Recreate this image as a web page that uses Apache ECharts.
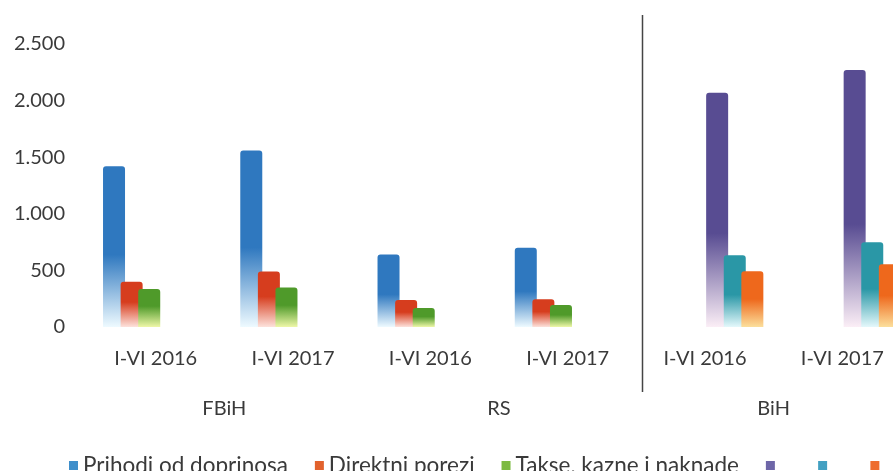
<!DOCTYPE html>
<html>
<head>
<meta charset="utf-8">
<script src="https://cdn.jsdelivr.net/npm/echarts@6/dist/echarts.min.js"></script>
<style>
  html, body { margin: 0; padding: 0; background: #fff; }
  #chart { width: 893px; height: 471px; }
</style>
</head>
<body>
<div id="chart"></div>
<script>
  // podaci (mil. KM), ocitano sa slike
  const periodLabels = ['I-VI 2016', 'I-VI 2017', 'I-VI 2016', 'I-VI 2017', 'I-VI 2016', 'I-VI 2017']
  const entityLabels = ['FBiH', 'RS', 'BiH']
  const entityCats = ['FBiH 2016', 'FBiH 2017', 'RS 2016', 'RS 2017']
  const bihCats = ['BiH 2016', 'BiH 2017']

  const doprinosi = [1420, 1560, 640, 700]
  const direktni = [400, 490, 238, 246]
  const takse = [335, 350, 167, 194]

  const doprinosiBiH = [2070, 2270]
  const direktniBiH = [634, 748]
  const takseBiH = [493, 555]

  const yMin = 0
  const yMax = 2500
  const yStep = 500

  const font = 'Lato'
  const textColor = '#3a3a3a'

  function fade(top, bottom, stop) {
    return {
      type: 'linear', x: 0, y: 0, x2: 0, y2: 1,
      colorStops: [
        { offset: 0, color: top },
        { offset: stop, color: top },
        { offset: 1, color: bottom }
      ]
    }
  }

  function bar(name, data, axis, color) {
    return {
      name: name,
      type: 'bar',
      xAxisIndex: axis,
      yAxisIndex: axis,
      data: data,
      barWidth: 22,
      barGap: '-20%',
      itemStyle: { color: color, borderRadius: [3, 3, 0, 0] }
    }
  }

  const chart = echarts.init(document.getElementById('chart'))
  const option = {
    animation: false,
    backgroundColor: '#fff',
    textStyle: { fontFamily: font },
    grid: [
      { left: 63, width: 549, top: 44, bottom: 144, outerBoundsMode: 'none' },
      { left: 666, width: 275, top: 44, bottom: 144, outerBoundsMode: 'none' },
      { left: 87, width: 824, top: 44, bottom: 144, outerBoundsMode: 'none' }
    ],
    xAxis: [
      { type: 'category', gridIndex: 0, data: entityCats, show: false },
      { type: 'category', gridIndex: 1, data: bihCats, show: false },
      {
        type: 'category', gridIndex: 2, data: periodLabels,
        axisLine: { show: false }, axisTick: { show: false },
        axisLabel: { interval: 0, margin: 22, fontSize: 20, color: textColor, fontFamily: font }
      },
      {
        type: 'category', gridIndex: 2, data: entityLabels, position: 'bottom', offset: 52,
        axisLine: { show: false }, axisTick: { show: false },
        axisLabel: { interval: 0, margin: 20, fontSize: 20, color: textColor, fontFamily: font }
      }
    ],
    yAxis: [
      { type: 'value', gridIndex: 0, min: yMin, max: yMax, interval: yStep, show: false },
      { type: 'value', gridIndex: 1, min: yMin, max: yMax, interval: yStep, show: false },
      {
        type: 'value', gridIndex: 2, min: yMin, max: yMax, interval: yStep,
        axisLine: { show: false }, axisTick: { show: false }, splitLine: { show: false },
        axisLabel: {
          margin: 22, fontSize: 20, color: textColor, fontFamily: font,
          formatter: v => String(v).replace(/\B(?=(\d{3})+(?!\d))/g, '.')
        }
      }
    ],
    legend: {
      left: 64,
      top: 449,
      width: 1000,
      icon: 'rect',
      itemWidth: 9,
      itemHeight: 9,
      itemGap: 27,
      textStyle: { fontSize: 22.5, color: textColor, fontFamily: font },
      formatter: name => name.indexOf('BiH') >= 0 ? '\u2002' : name,
      data: [
        { name: 'Prihodi od doprinosa', itemStyle: { color: '#3f8fcb' } },
        { name: 'Direktni porezi', itemStyle: { color: '#e2622d' } },
        { name: 'Takse, kazne i naknade', itemStyle: { color: '#7dba42' } },
        { name: 'Prihodi od doprinosa BiH', itemStyle: { color: '#6e66a8' } },
        { name: 'Direktni porezi BiH', itemStyle: { color: '#42a0c2' } },
        { name: 'Takse, kazne i naknade BiH', itemStyle: { color: '#ee6c2d' } }
      ]
    },
    series: [
      bar('Prihodi od doprinosa', doprinosi, 0, fade('#2f78bf', '#eefaff', 0.55)),
      bar('Direktni porezi', direktni, 0, fade('#d63d1e', '#fde2dc', 0.45)),
      bar('Takse, kazne i naknade', takse, 0, fade('#4f9a2a', '#eef7a8', 0.45)),
      bar('Prihodi od doprinosa BiH', doprinosiBiH, 1, fade('#584c92', '#fbeef6', 0.6)),
      bar('Direktni porezi BiH', direktniBiH, 1, fade('#2a97a6', '#e4f8fb', 0.55)),
      bar('Takse, kazne i naknade BiH', takseBiH, 1, fade('#ee681c', '#fcdf9c', 0.5))
    ]
  }
  chart.setOption(option)

  // razdjelnik izmedju entiteta i BiH, na granici kategorija
  const xa = chart.convertToPixel({ xAxisIndex: 2 }, 3)
  const xb = chart.convertToPixel({ xAxisIndex: 2 }, 4)
  const sepX = Math.round((xa + xb) / 2) + 6.5
  chart.setOption({
    graphic: [{
      type: 'line',
      shape: { x1: sepX, y1: 15, x2: sepX, y2: 392 },
      style: { stroke: '#444', lineWidth: 1.5 }
    }]
  })
</script>
</body>
</html>
